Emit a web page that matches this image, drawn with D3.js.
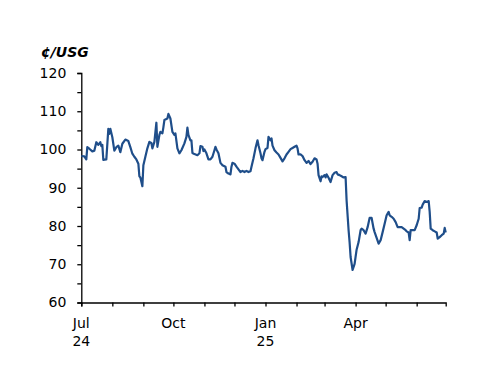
<!DOCTYPE html>
<html><head><meta charset="utf-8">
<script src="https://cdn.jsdelivr.net/npm/d3@7"></script>
<style>body{margin:0;background:#fff}svg{display:block}text{font-family:"DejaVu Sans",Verdana,sans-serif;fill:#000}</style>
</head><body><svg id="c" width="500" height="386"></svg>
<script>
const dates = ["2024-07-01","2024-07-04","2024-07-06","2024-07-07","2024-07-09","2024-07-12","2024-07-14","2024-07-16","2024-07-18","2024-07-20","2024-07-21","2024-07-22","2024-07-23","2024-07-26","2024-07-28","2024-07-29","2024-07-30","2024-08-01","2024-08-03","2024-08-05","2024-08-07","2024-08-09","2024-08-11","2024-08-14","2024-08-17","2024-08-19","2024-08-21","2024-08-23","2024-08-25","2024-08-27","2024-08-28","2024-08-29","2024-08-31","2024-09-01","2024-09-03","2024-09-05","2024-09-07","2024-09-09","2024-09-10","2024-09-12","2024-09-14","2024-09-15","2024-09-17","2024-09-18","2024-09-20","2024-09-21","2024-09-22","2024-09-25","2024-09-26","2024-09-28","2024-09-30","2024-10-02","2024-10-03","2024-10-05","2024-10-07","2024-10-09","2024-10-12","2024-10-14","2024-10-15","2024-10-16","2024-10-18","2024-10-19","2024-10-20","2024-10-22","2024-10-25","2024-10-27","2024-10-28","2024-10-30","2024-10-31","2024-11-01","2024-11-03","2024-11-05","2024-11-07","2024-11-09","2024-11-11","2024-11-12","2024-11-13","2024-11-15","2024-11-17","2024-11-19","2024-11-22","2024-11-23","2024-11-25","2024-11-27","2024-11-28","2024-11-29","2024-12-01","2024-12-03","2024-12-05","2024-12-07","2024-12-09","2024-12-11","2024-12-13","2024-12-15","2024-12-17","2024-12-18","2024-12-20","2024-12-22","2024-12-24","2024-12-25","2024-12-27","2024-12-28","2024-12-29","2024-12-31","2025-01-01","2025-01-03","2025-01-04","2025-01-06","2025-01-07","2025-01-08","2025-01-10","2025-01-12","2025-01-14","2025-01-16","2025-01-18","2025-01-20","2025-01-22","2025-01-24","2025-01-26","2025-01-28","2025-01-30","2025-02-01","2025-02-02","2025-02-03","2025-02-05","2025-02-07","2025-02-09","2025-02-11","2025-02-13","2025-02-15","2025-02-17","2025-02-19","2025-02-21","2025-02-22","2025-02-23","2025-02-25","2025-02-26","2025-02-27","2025-03-01","2025-03-02","2025-03-03","2025-03-05","2025-03-07","2025-03-09","2025-03-11","2025-03-13","2025-03-14","2025-03-16","2025-03-18","2025-03-20","2025-03-22","2025-03-23","2025-03-25","2025-03-26","2025-03-27","2025-03-29","2025-03-31","2025-04-02","2025-04-04","2025-04-06","2025-04-07","2025-04-09","2025-04-11","2025-04-13","2025-04-15","2025-04-17","2025-04-19","2025-04-20","2025-04-22","2025-04-24","2025-04-26","2025-04-28","2025-04-30","2025-05-02","2025-05-04","2025-05-05","2025-05-07","2025-05-09","2025-05-11","2025-05-13","2025-05-15","2025-05-17","2025-05-19","2025-05-21","2025-05-22","2025-05-24","2025-05-25","2025-05-26","2025-05-28","2025-05-30","2025-06-01","2025-06-03","2025-06-04","2025-06-06","2025-06-07","2025-06-09","2025-06-11","2025-06-13","2025-06-14","2025-06-15","2025-06-17","2025-06-19","2025-06-21","2025-06-22","2025-06-24","2025-06-26","2025-06-28","2025-06-29","2025-06-30"];
const prices = [98.3,98.2,97.4,100.6,100.2,99.5,99.7,101.9,101.2,101.9,100.9,101.2,97.3,97.4,105.4,104.1,105.4,103.2,99.7,100.6,101.0,99.3,101.5,102.6,102.2,100.6,98.9,98.1,97.4,96.3,93.0,92.7,90.4,95.9,98.1,100.3,102.0,101.7,100.3,102.0,107.0,100.7,103.8,104.6,104.2,105.8,107.7,108.1,109.3,108.1,104.6,103.8,104.2,100.3,99.0,99.8,101.6,103.3,105.7,103.8,102.4,102.4,99.1,98.8,98.5,99.0,100.9,100.7,99.6,100.0,99.0,97.4,97.4,98.1,99.8,100.7,100.0,99.0,96.5,95.9,95.5,94.1,93.7,93.5,95.5,96.5,96.3,95.5,94.8,94.1,94.4,94.1,94.4,94.1,94.3,95.5,97.7,100.3,102.4,101.1,99.0,97.7,97.2,99.4,100.1,100.4,103.3,102.4,102.9,101.0,99.8,99.2,98.7,97.8,96.9,97.7,98.7,99.4,100.1,100.4,100.7,101.0,100.3,98.7,98.7,98.3,97.2,96.5,97.0,96.2,96.8,97.7,97.4,96.3,93.3,91.7,93.0,92.8,93.3,92.7,93.5,92.6,91.5,93.3,93.9,94.1,93.5,93.3,93.0,92.7,92.8,86.7,78.9,75.8,71.9,68.5,70.1,73.8,75.8,78.9,79.3,78.9,78.0,79.7,82.1,82.1,79.3,78.4,76.9,75.4,76.3,78.4,80.6,82.8,83.7,82.8,82.4,81.9,81.0,79.7,79.7,79.7,79.3,78.9,78.6,78.3,76.3,78.9,78.9,78.9,80.2,81.9,84.7,84.8,85.6,86.5,86.3,86.5,83.7,79.3,78.9,78.6,78.3,76.7,77.1,77.6,78.0,79.5,78.3];
const yTicks = [60,70,80,90,100,110,120];
const xLabelMonths = ["2024-07-01","2024-10-01","2025-01-01","2025-04-01"];
const xLabelLine1 = ["Jul","Oct","Jan","Apr"];
const xLabelLine2 = ["24","","25",""];
const unitLabel = "¢/USG";

const svg = d3.select("#c");
const parse = d3.utcParse("%Y-%m-%d");
const data = dates.map((d,i)=>({date:parse(d), v:prices[i]}));

const x = d3.scaleUtc().domain([parse("2024-07-01"), parse("2025-06-30")]).range([81.3, 445.7]);
const y = d3.scaleLinear().domain([60,120]).range([302.5, 73]);

// y axis
const yAxis = d3.axisLeft(y).tickValues(d3.range(60,121,5)).tickSize(4).tickPadding(11)
  .tickFormat(d => yTicks.includes(d) ? d : "");
const gy = svg.append("g").attr("transform","translate(81.3,0)").call(yAxis);
gy.select(".domain").attr("stroke","#000").attr("stroke-width",1.3);
gy.selectAll(".tick line").attr("stroke","#000").attr("stroke-width",1.3);
gy.selectAll("text").style("font-size","14px").attr("fill","#000");

// x axis
const months = d3.utcMonth.range(parse("2024-07-01"), parse("2025-07-01"));
const xAxis = d3.axisBottom(x).tickValues(months).tickSize(4).tickFormat("");
const gx = svg.append("g").attr("transform","translate(0,302.5)").call(xAxis);
gx.select(".domain").attr("stroke","#000").attr("stroke-width",1.3);
gx.selectAll(".tick line").attr("stroke","#000").attr("stroke-width",1.3);

const lab = svg.append("g");
xLabelMonths.forEach((m,i)=>{
  const t = lab.append("text").attr("x", x(parse(m))).attr("y", 328).attr("text-anchor","middle").style("font-size","14px").text(xLabelLine1[i]);
  if (xLabelLine2[i]) lab.append("text").attr("x", x(parse(m))).attr("y", 346).attr("text-anchor","middle").style("font-size","14px").text(xLabelLine2[i]);
});

svg.append("text").attr("x",41).attr("y",57).style("font-size","14px").style("font-weight","bold").style("font-style","italic").text(unitLabel);

const line = d3.line().x(d=>x(d.date)).y(d=>y(d.v)).curve(d3.curveLinear);
svg.append("path").datum(data).attr("d",line).attr("fill","none").attr("stroke","#1F4E8A").attr("stroke-width",2.2).attr("stroke-linejoin","round");
</script></body></html>
